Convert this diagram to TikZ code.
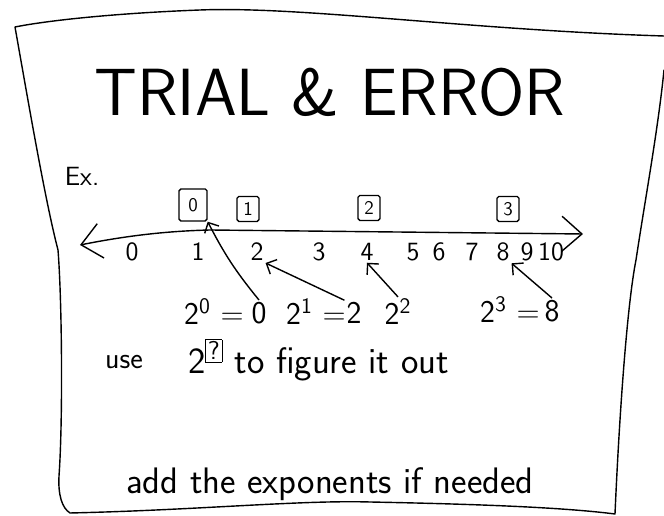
\documentclass[tikz,border=0pt]{standalone}
\usepackage{tikz}
\usetikzlibrary{arrows.meta, positioning}

\begin{document}
\begin{tikzpicture}[
    x=0.02cm, y=-0.02cm,
    title/.style={font=\sffamily\fontsize{38}{42}\selectfont, inner sep=0pt},
    hand/.style={font=\sffamily\fontsize{18}{20}\selectfont, inner sep=1pt},
    numlabel/.style={font=\sffamily\fontsize{15}{17}\selectfont, inner sep=1pt},
    expbox/.style={draw, thick, rounded corners=1pt, font=\sffamily\fontsize{11}{12}\selectfont, minimum width=0.44cm, minimum height=0.5cm, inner sep=1pt},
    numline/.style={{Straight Barb[length=4mm, width=7mm]}-{Straight Barb[length=4mm, width=7mm]}, thick},
    arrow/.style={-{Straight Barb[length=1.6mm, width=3.2mm]}, thick},
    paper/.style={thick, line cap=round, line join=round}
]
\useasboundingbox (0,0) rectangle (664,516);

\draw[paper] (664,36) .. controls (470,30) and (300,6) .. (200,10)
    .. controls (120,13) and (50,20) .. (15,27)
    .. controls (28,100) and (45,200) .. (58,250)
    .. controls (62,300) and (63,420) .. (59,476)
    .. controls (58,495) and (62,508) .. (70,513)
    .. controls (200,510) and (300,500) .. (370,502)
    .. controls (470,504) and (560,507) .. (615,514)
    .. controls (620,400) and (628,300) .. (636,260)
    .. controls (645,200) and (658,130) .. (664,70);

\node[title] (head) at (330,92) {TRIAL \& ERROR};
\node[hand, font=\sffamily\fontsize{15}{17}\selectfont] (ex) at (82,176) {Ex.};

\coordinate (lend) at (80,245);
\coordinate (rend) at (583,234);
\draw[numline] (lend) .. controls (130,235) and (170,231) .. (210,230) -- (rend);

\foreach \n/\x in {0/132,1/198,2/257,3/319,4/367,5/413,6/439,7/472,8/503,9/527,10/551}
    \node[numlabel] (n\n) at (\x,252) {\n};

\node[expbox, minimum width=0.56cm, minimum height=0.64cm] (b0) at (193,205) {0};
\node[expbox] (b1) at (248,209) {1};
\node[expbox] (b2) at (369,208) {2};
\node[expbox] (b3) at (508,209) {3};

\node[hand] (e0) at (214,312) {2\textsuperscript{0} =};
\node[hand] (r0) at (259,313) {0};
\node[hand] (e1) at (316,312) {2\textsuperscript{1} =};
\node[hand] (r1) at (354,313) {2};
\node[hand] (e2) at (398,312) {2\textsuperscript{2}};
\node[hand] (e3) at (510,310) {2\textsuperscript{3} =};
\node[hand] (r3) at (552,311) {8};

\draw[arrow] (r0.north) to[bend left=6] (b0.south east);
\draw[arrow] (r1.north west) -- (n2.south east);
\draw[arrow] (e2.north) -- (n4.south);
\draw[arrow] (r3.north) -- (n8.south east);

\node[hand, font=\sffamily\fontsize{17}{19}\selectfont] (use) at (124,362) {use};
\node[hand, anchor=west, font=\sffamily\fontsize{21}{23}\selectfont] (hint) at (186,360) {2\textsuperscript{\fboxsep=1pt\fbox{?}} to figure it out};

\node[hand, font=\sffamily\fontsize{21}{23}\selectfont] (note) at (330,484) {add the exponents if needed};
\end{tikzpicture}
\end{document}
